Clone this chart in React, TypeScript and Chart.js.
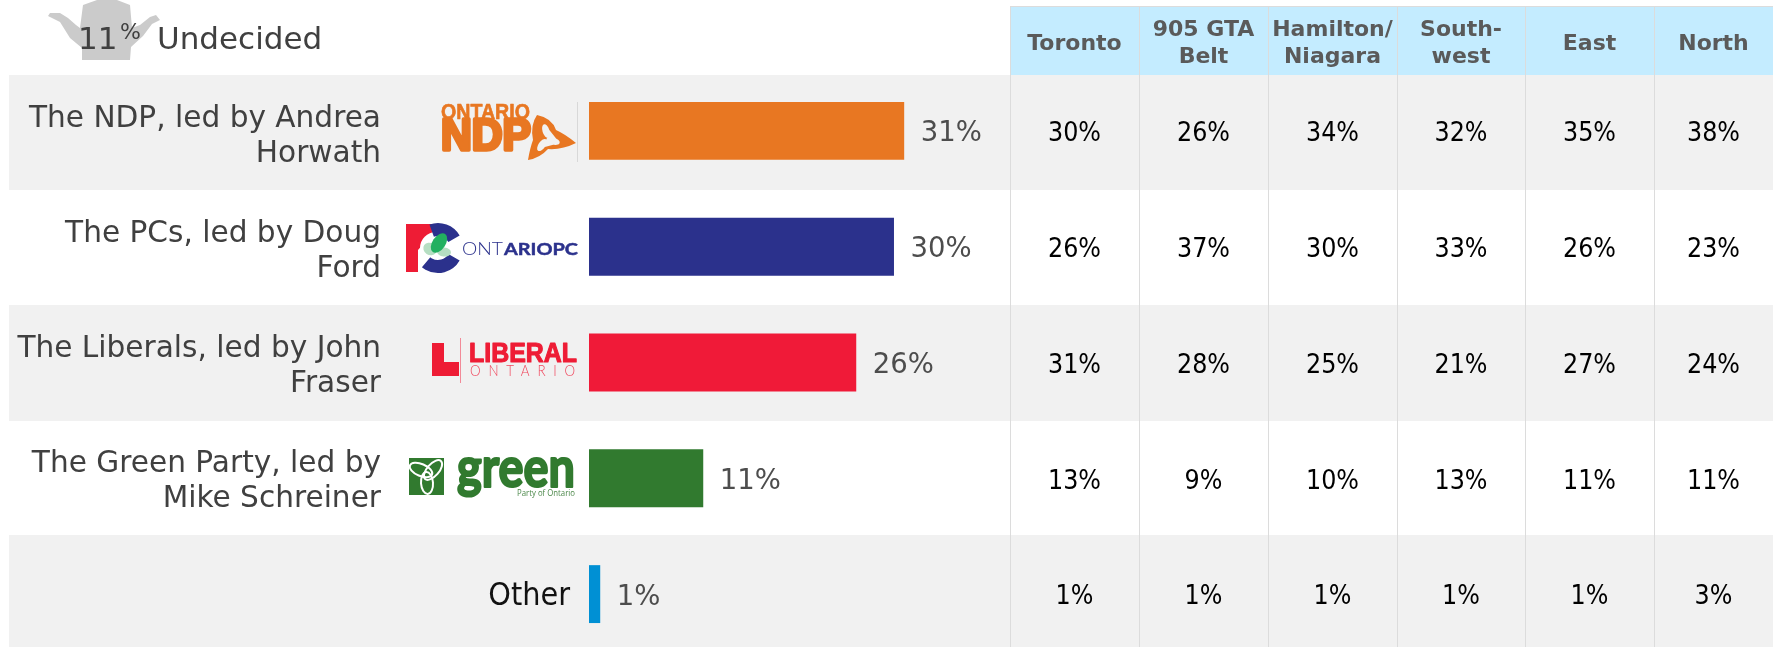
import React, { useEffect, useRef } from "react";
import { Chart, registerables } from "chart.js";

Chart.register(...registerables);

const parties = ["The NDP, led by Andrea|Horwath", "The PCs, led by Doug|Ford", "The Liberals, led by John|Fraser", "The Green Party, led by|Mike Schreiner", "Other"];
const overall = [30.9, 29.9, 26.2, 11.2, 1.1];
const partyColors = ["#e87722", "#2b318c", "#f01a38", "#317a2f", "#0090d4"];
const regions = ["Toronto", "905 GTA|Belt", "Hamilton/|Niagara", "South-|west", "East", "North"];
const toronto = [30, 26, 31, 13, 1];
const gtaBelt = [26, 37, 28, 9, 1];
const hamilton = [34, 30, 25, 10, 1];
const southwest = [32, 33, 21, 13, 1];
const east = [35, 26, 27, 11, 1];
const north = [38, 23, 24, 11, 3];
const regionValues = [toronto, gtaBelt, hamilton, southwest, east, north];
const undecided = "11";

const FONT = '"DejaVu Sans", sans-serif';
const COND = '"DejaVu Sans Condensed", "DejaVu Sans", sans-serif';
const COL_X = [1010, 1139, 1268, 1397, 1525, 1654, 1773];
const BANDS = [75, 190, 305, 421, 535, 647];
const HEADER_TOP = 6;
const ROW_LEFT = 9;

function fit(ctx: CanvasRenderingContext2D, text: string, x: number, y: number, w: number, h: number, font: string, color: string, heavy = 0) {
  ctx.save();
  ctx.font = font;
  ctx.textAlign = "left";
  ctx.textBaseline = "alphabetic";
  ctx.fillStyle = color;
  ctx.strokeStyle = color;
  const m = ctx.measureText(text);
  const mh = m.actualBoundingBoxAscent + m.actualBoundingBoxDescent;
  ctx.translate(x, y + h);
  ctx.scale(w / m.width, h / mh);
  ctx.translate(0, -m.actualBoundingBoxDescent);
  if (heavy) {
    ctx.lineWidth = heavy;
    ctx.lineJoin = "round";
    ctx.strokeText(text, 0, 0);
  }
  ctx.fillText(text, 0, 0);
  ctx.restore();
}

function poly(ctx: CanvasRenderingContext2D, pts: number[][], color: string) {
  ctx.fillStyle = color;
  ctx.beginPath();
  pts.forEach((p, i) => (i ? ctx.lineTo(p[0], p[1]) : ctx.moveTo(p[0], p[1])));
  ctx.closePath();
  ctx.fill();
}

function drawFigure(ctx: CanvasRenderingContext2D) {
  poly(ctx, [[97, 0], [117, 0], [130, 5], [132, 28], [140, 25], [150, 17], [156, 15], [160, 20], [152, 24], [143, 36], [131, 47], [130, 60], [82, 60], [82, 48], [70, 38], [60, 22], [48, 16], [50, 13], [60, 13], [68, 18], [76, 25], [80, 28], [83, 5]], "#cbcbcb");
}

function drawNdp(ctx: CanvasRenderingContext2D) {
  const c = "#e87722";
  fit(ctx, "ONTARIO", 441, 103, 89, 16, 'bold 20px "Liberation Sans Narrow", "Liberation Sans"', c, 0.6);
  fit(ctx, "NDP", 441, 121, 90, 29, 'bold 30px "Liberation Sans"', c, 2.5);
  ctx.fillStyle = c;
  ctx.beginPath();
  ctx.moveTo(537, 115);
  ctx.quadraticCurveTo(552, 118, 556, 130);
  ctx.quadraticCurveTo(565, 134, 576, 143);
  ctx.quadraticCurveTo(562, 150, 548, 149);
  ctx.quadraticCurveTo(540, 158, 528, 160);
  ctx.quadraticCurveTo(530, 148, 533, 140);
  ctx.quadraticCurveTo(530, 125, 537, 115);
  ctx.fill();
  ctx.fillStyle = "#f1f1f1";
  ctx.beginPath();
  ctx.ellipse(546, 131, 3.5, 7, -0.3, 0, Math.PI * 2);
  ctx.ellipse(553, 141, 7, 3.5, 0.3, 0, Math.PI * 2);
  ctx.ellipse(542, 145, 3.5, 7, 0.6, 0, Math.PI * 2);
  ctx.fill();
  ctx.fillStyle = "#d8d8d8";
  ctx.fillRect(577, 102, 1, 60);
}

function drawPc(ctx: CanvasRenderingContext2D) {
  const blue = "#2b318c";
  poly(ctx, [[406, 224], [434, 224], [434, 232], [418, 250], [418, 272], [406, 272]], "#ee1c35");
  ctx.fillStyle = "#ffffff";
  ctx.beginPath();
  ctx.arc(436, 248, 16, 0, Math.PI * 2);
  ctx.fill();
  ctx.strokeStyle = blue;
  ctx.lineWidth = 13;
  ctx.beginPath();
  ctx.arc(438, 248, 18.5, (-110 * Math.PI) / 180, (-30 * Math.PI) / 180);
  ctx.stroke();
  ctx.beginPath();
  ctx.arc(438, 248, 18.5, (30 * Math.PI) / 180, (130 * Math.PI) / 180);
  ctx.stroke();
  ctx.fillStyle = "#b5dec2";
  ctx.beginPath();
  ctx.ellipse(430, 249, 7, 6, 0.6, 0, Math.PI * 2);
  ctx.ellipse(444, 252, 7, 4.5, 0.1, 0, Math.PI * 2);
  ctx.fill();
  ctx.fillStyle = "#22b060";
  ctx.beginPath();
  ctx.ellipse(439, 243, 6.5, 11, 0.6, 0, Math.PI * 2);
  ctx.fill();
  fit(ctx, "ONT", 462, 242, 41, 13, '300 18px "Lato", "Liberation Sans"', blue);
  fit(ctx, "ARIOPC", 504, 242, 74, 13, 'bold 18px "Lato", "Liberation Sans"', blue, 0.5);
}

function drawLiberal(ctx: CanvasRenderingContext2D) {
  const c = "#ee1c35";
  poly(ctx, [[432, 343], [444, 343], [444, 362], [459, 362], [459, 376], [432, 376]], c);
  ctx.fillStyle = "#f28a98";
  ctx.fillRect(460, 338, 1, 45);
  fit(ctx, "LIBERAL", 469, 343, 108, 19, 'bold 20px "Liberation Sans"', c, 0.8);
  ctx.save();
  ctx.letterSpacing = "7px";
  fit(ctx, "ONTARIO", 470, 365, 113, 11, '300 12px "Lato", "Liberation Sans"', "#f0475d");
  ctx.restore();
}

function drawGreen(ctx: CanvasRenderingContext2D) {
  const c = "#317a2f";
  ctx.fillStyle = c;
  ctx.fillRect(409, 458, 35, 37);
  ctx.strokeStyle = "#ffffff";
  ctx.lineWidth = 2;
  ctx.beginPath();
  ctx.ellipse(421, 470, 12, 6, 0.4, 0, Math.PI * 2);
  ctx.stroke();
  ctx.beginPath();
  ctx.ellipse(433, 470, 12, 6, -0.85, 0, Math.PI * 2);
  ctx.stroke();
  ctx.beginPath();
  ctx.ellipse(427, 483, 11, 6, 1.5, 0, Math.PI * 2);
  ctx.stroke();
  fit(ctx, "green", 457, 458, 118, 40, 'bold 40px "Lato", "Liberation Sans"', c, 1.6);
  fit(ctx, "Party of Ontario", 517, 489, 58, 9, '11px "Open Sans", "Liberation Sans"', "#4a8748");
}

const layoutPlugin = {
  id: "pollLayout",
  beforeDatasetsDraw(chart: any) {
    const { ctx, scales } = chart;
    const y = scales.y;
    ctx.save();
    parties.forEach((_, i) => {
      if (i % 2 === 0) {
        ctx.fillStyle = "#f1f1f1";
        ctx.fillRect(ROW_LEFT, BANDS[i], 1773 - ROW_LEFT, BANDS[i + 1] - BANDS[i]);
      }
    });
    ctx.fillStyle = "#c4ecff";
    ctx.fillRect(COL_X[0], HEADER_TOP, 1773 - COL_X[0], BANDS[0] - HEADER_TOP);
    ctx.fillStyle = "#dcdcdc";
    ctx.fillRect(COL_X[0], HEADER_TOP, 1773 - COL_X[0], 1);
    COL_X.slice(0, 6).forEach((x) => ctx.fillRect(x, HEADER_TOP, 1, 647 - HEADER_TOP));

    drawFigure(ctx);
    ctx.fillStyle = "#404040";
    ctx.textBaseline = "alphabetic";
    ctx.textAlign = "left";
    ctx.font = `31px ${FONT}`;
    ctx.fillText(undecided, 78, 49);
    ctx.font = `22px ${FONT}`;
    ctx.fillText("%", 120, 39);
    ctx.font = `31px ${FONT}`;
    ctx.fillText("Undecided", 157, 49);

    ctx.textAlign = "right";
    ctx.textBaseline = "middle";
    parties.forEach((label, i) => {
      const c = y.getPixelForTick(i);
      const lines = label.split("|");
      if (lines.length === 2) {
        const top = BANDS[0] + 44 + 115 * i;
        ctx.fillStyle = "#404040";
        ctx.font = `29.6px ${FONT}`;
        ctx.fillText(lines[0], 381, top);
        ctx.fillText(lines[1], 381, top + 35);
      } else {
        ctx.fillStyle = "#111111";
        ctx.font = `32px ${COND}`;
        ctx.fillText(label, 570, c + 3);
      }
    });

    drawNdp(ctx);
    drawPc(ctx);
    drawLiberal(ctx);
    drawGreen(ctx);

    ctx.textAlign = "center";
    regions.forEach((r, j) => {
      const cx = (COL_X[j] + COL_X[j + 1]) / 2;
      const lines = r.split("|");
      ctx.fillStyle = "#5a5a5a";
      ctx.font = `bold 22px ${FONT}`;
      if (lines.length === 2) {
        ctx.fillText(lines[0], cx, 30);
        ctx.fillText(lines[1], cx, 57);
      } else {
        ctx.fillText(lines[0], cx, 44);
      }
      ctx.fillStyle = "#000000";
      ctx.font = `26.5px ${COND}`;
      regionValues[j].forEach((v, i) => ctx.fillText(`${v}%`, cx, y.getPixelForTick(i) + 3.5));
    });
    ctx.restore();
  },
  afterDatasetsDraw(chart: any) {
    const { ctx } = chart;
    const meta = chart.getDatasetMeta(0);
    ctx.save();
    ctx.fillStyle = "#4d4d4d";
    ctx.font = `27.5px ${FONT}`;
    ctx.textAlign = "left";
    ctx.textBaseline = "alphabetic";
    meta.data.forEach((bar: any, i: number) => ctx.fillText(`${Math.round(overall[i])}%`, bar.x + 16.5, bar.y + 10.5));
    ctx.restore();
  },
};

export default function App() {
  const ref = useRef<HTMLCanvasElement>(null);
  useEffect(() => {
    const chart = new Chart(ref.current!, {
      type: "bar",
      data: {
        labels: parties.map((p) => p.replace("|", " ")),
        datasets: [{ data: overall, backgroundColor: partyColors, barPercentage: 0.5, categoryPercentage: 1 }],
      },
      options: {
        indexAxis: "y",
        responsive: false,
        animation: false,
        layout: { padding: { left: 589, top: 73, right: 776, bottom: 0 } },
        plugins: { legend: { display: false }, tooltip: { enabled: false } },
        scales: {
          x: { display: false, min: 0, max: 40 },
          y: { display: false },
        },
      },
      plugins: [layoutPlugin],
    } as any);
    return () => chart.destroy();
  }, []);
  return (
    <div style={{ position: "absolute", left: 0, top: 0, width: 1773, height: 647, overflow: "hidden", background: "#fff" }}>
      <canvas ref={ref} width={1773} height={652} style={{ display: "block" }} />
    </div>
  );
}
